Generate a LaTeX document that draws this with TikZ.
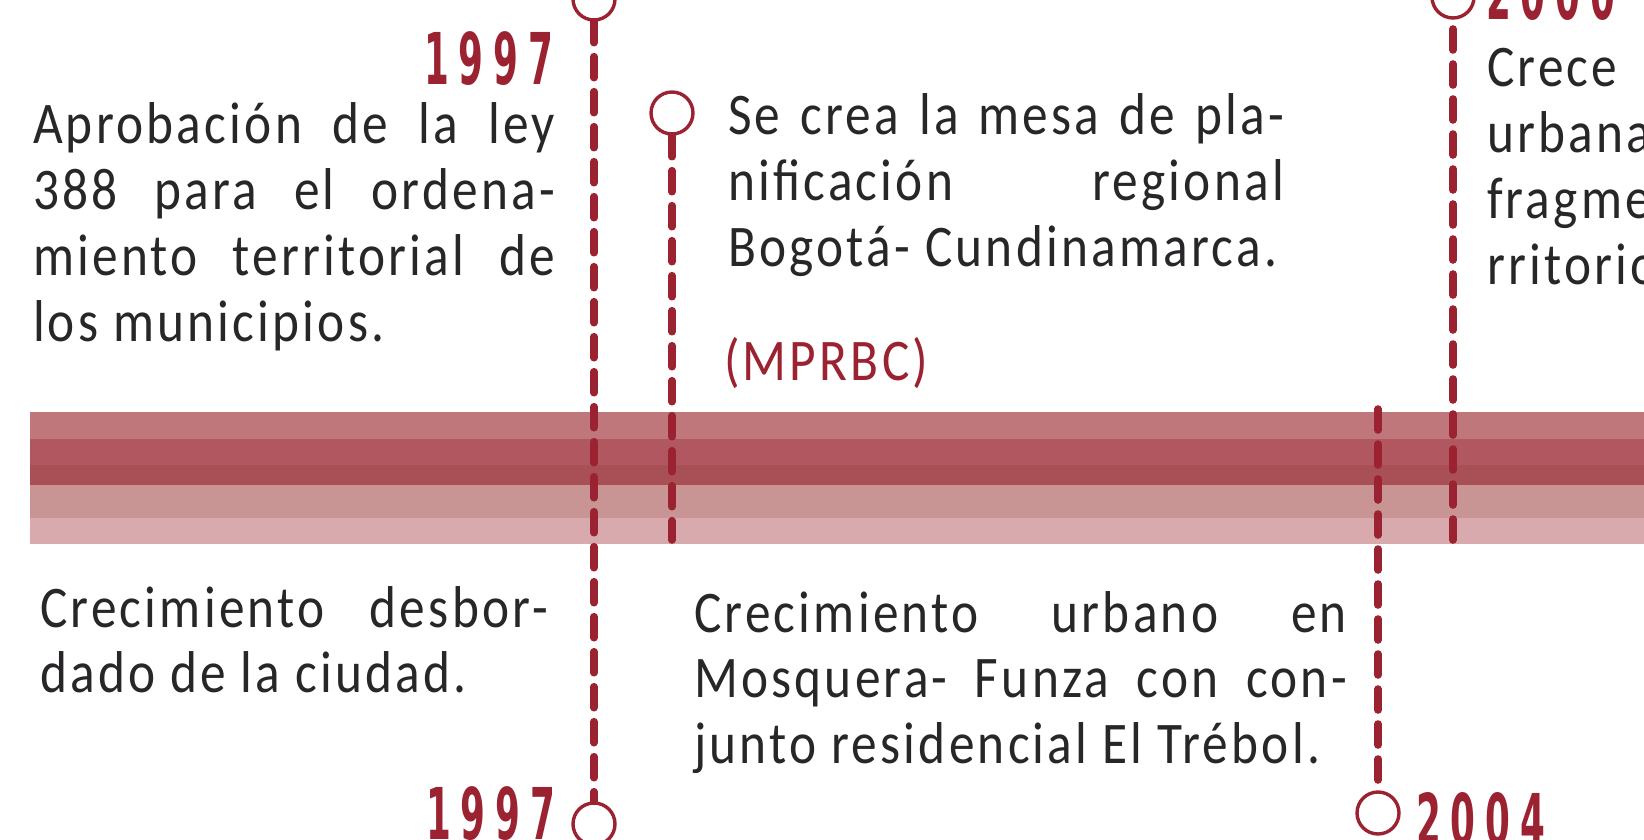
\documentclass[tikz,border=0pt]{standalone}
\usepackage{fontspec}
\setmainfont{Carlito}[FakeStretch=0.87,LetterSpace=5.5]
\newfontfamily\yearfont{DejaVu Sans}[FakeStretch=0.5,LetterSpace=14]
\definecolor{tlred}{RGB}{155,34,48}
\definecolor{txt}{RGB}{40,38,40}
\definecolor{bandA}{RGB}{191,119,124}
\definecolor{bandB}{RGB}{176,87,95}
\definecolor{bandC}{RGB}{169,79,86}
\definecolor{bandD}{RGB}{201,149,148}
\definecolor{bandE}{RGB}{216,169,173}
\begin{document}
\begin{tikzpicture}[x=0.5pt,y=-0.5pt,
  ring/.style={circle,draw=tlred,line width=1.7pt,fill=white,minimum size=21pt,inner sep=0pt},
  tldash/.style={draw=tlred,line width=3.8pt,line cap=round,dash pattern=on 10.5pt off 7pt},
  body/.style={anchor=base west,inner sep=0pt,outer sep=0pt,text=txt,font=\fontsize{29.5}{33}\selectfont},
  redbody/.style={body,text=tlred},
  year/.style={anchor=base west,inner sep=0pt,outer sep=0pt,text=tlred,font=\yearfont\bfseries\fontsize{35.7}{36}\selectfont}]
\useasboundingbox (0,0) rectangle (1644,840);
\clip (0,0) rectangle (1644,840);
% band
\fill[bandA] (30,412) rectangle (1644,439);
\fill[bandB] (30,439) rectangle (1644,465);
\fill[bandC] (30,465) rectangle (1644,485);
\fill[bandD] (30,485) rectangle (1644,518);
\fill[bandE] (30,518) rectangle (1644,544);
% rings
\node[ring] (c1t) at (594,-1) {};
\node[ring] (c1b) at (594,824) {};
\node[ring] (c2) at (672,113) {};
\node[ring] (c3) at (1378,813) {};
\node[ring] (c4) at (1453,-3) {};
\coordinate (e2) at (672,540);
\coordinate (t3) at (1378,409);
\coordinate (e4) at (1453,540);
% dashed connectors
\draw[tldash] (c1t.south) -- (c1b.north);
\draw[tldash] (c2.south) -- (e2);
\draw[tldash] (t3) -- (c3.north);
\draw[tldash] (e4) -- (c4.south);
% years
\node[year] (y1) at (424,85) {1997};
\node[year] (y2) at (426,839) {1997};
\node[year] (y3) at (1416,845) {2004};
\node[year] (y4) at (1486,20) {2000};
% block 1
\node[body] (a1) at (33,143) {\makebox[261pt][s]{Aprobación de la ley}};
\node[body] (a2) at (33,209) {\makebox[261pt][s]{388 para el ordena-}};
\node[body] (a3) at (33,275) {\makebox[261pt][s]{miento territorial de}};
\node[body] (a4) at (33,341) {los municipios.};
% block 2
\node[body] (b1) at (728,134) {\makebox[278pt][s]{Se crea la mesa de pla-}};
\node[body] (b2) at (728,200) {\makebox[278pt][s]{nificación regional}};
\node[body] (b3) at (728,266) {Bogotá- Cundinamarca.};
\node[redbody] (b4) at (724,380) {(MPRBC)};
% block 3
\node[body] (d1) at (40,627) {\makebox[254pt][s]{Crecimiento desbor-}};
\node[body] (d2) at (40,692) {dado de la ciudad.};
% block 4
\node[body] (f1) at (694,632) {\makebox[326.5pt][s]{Crecimiento urbano en}};
\node[body] (f2) at (694,697) {\makebox[326.5pt][s]{Mosquera- Funza con con-}};
\node[body] (f3) at (694,763) {junto residencial El Trébol.};
% block 5
\node[body] (g1) at (1487,87) {Crece};
\node[body] (g2) at (1487,153) {urbana};
\node[body] (g3) at (1487,218) {fragme};
\node[body] (g4) at (1487,284) {rritorio};
\end{tikzpicture}
\end{document}
